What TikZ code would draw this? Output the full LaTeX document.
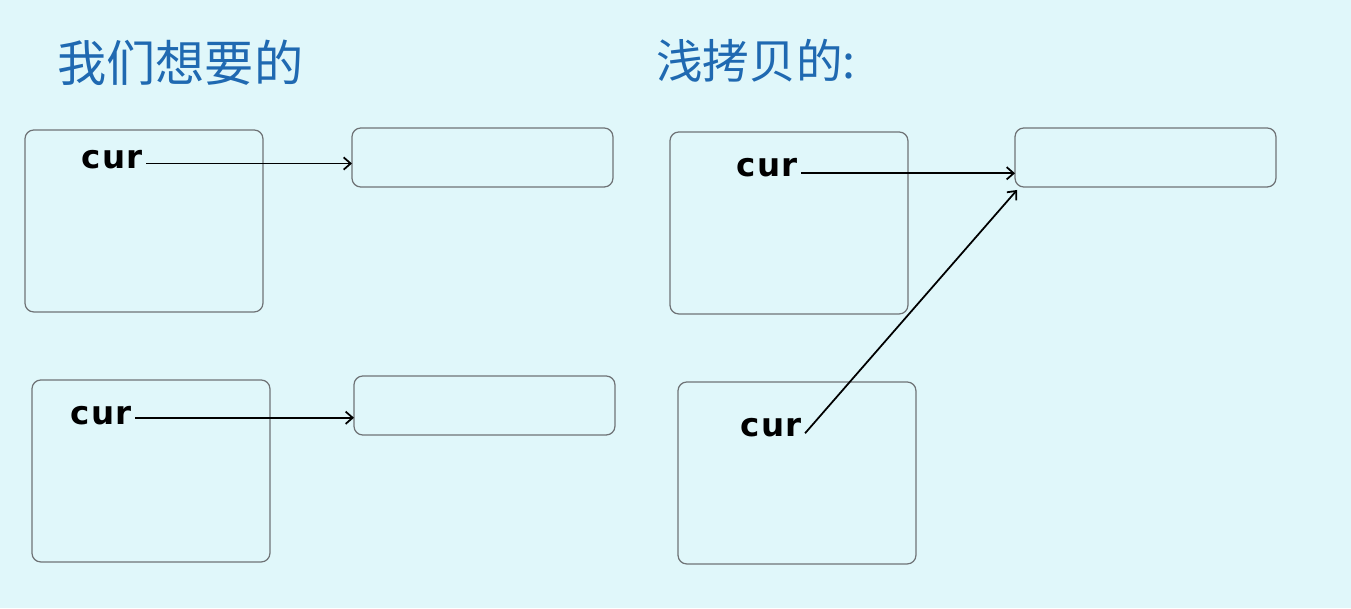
\documentclass[tikz,border=0pt]{standalone}
\usepackage{fontspec}
\usetikzlibrary{arrows.meta}
\newfontfamily\cjk{Noto Sans CJK SC}
\newfontfamily\curfont[LetterSpace=3]{DejaVu Sans}
\definecolor{bgcyan}{HTML}{E0F7FA}
\definecolor{titleblue}{HTML}{1F69B1}
\definecolor{boxgray}{HTML}{6F7376}

\begin{document}
\begin{tikzpicture}[x=0.02cm,y=-0.02cm,
    bigbox/.style={draw=boxgray,line width=0.7pt,rounded corners=5pt,outer sep=0pt,inner sep=0pt,anchor=north west,minimum width=4.76cm,minimum height=3.64cm},
    valbox/.style={draw=boxgray,line width=0.7pt,rounded corners=5pt,outer sep=0pt,inner sep=0pt,anchor=north west,minimum width=5.22cm,minimum height=1.18cm},
    curlbl/.style={inner sep=2pt,font=\curfont\bfseries\fontsize{18.5}{18.5}\selectfont},
    heading/.style={anchor=west,inner sep=0pt,text=titleblue},
    ptr/.style={-{Straight Barb[length=4pt,width=7pt]},line width=1pt}]
    \fill[bgcyan] (0,0) rectangle (1351,608);

    % Titel
    \node[heading,font=\cjk\fontsize{28}{30}\selectfont] (want) at (57,63) {我们想要的};
    \node[heading,font=\cjk\fontsize{26.5}{28}\selectfont] (shallow) at (656,61) {浅拷贝的:};

    % links
    \node[bigbox] (lt) at (25,130) {};
    \node[valbox] (ltv) at (352,128) {};
    \node[bigbox] (lb) at (32,380) {};
    \node[valbox] (lbv) at (354,376) {};
    \node[curlbl] (ltcur) at (112,160) {cur};
    \node[curlbl] (lbcur) at (101,416) {cur};

    % rechts
    \node[bigbox] (rt) at (670,132) {};
    \node[valbox] (rtv) at (1015,128) {};
    \node[bigbox] (rb) at (678,382) {};
    \node[curlbl] (rtcur) at (767,168) {cur};
    \node[curlbl] (rbcur) at (771,428) {cur};

    \draw[ptr] ([yshift=-2pt]ltcur.east) -- ([yshift=-2pt]ltcur.east -| ltv.west);
    \draw[ptr] ([yshift=-1pt]lbcur.east) -- ([yshift=-1pt]lbcur.east -| lbv.west);
    \draw[ptr] ([yshift=-3pt]rtcur.east) -- ([yshift=-3pt]rtcur.east -| rtv.west);
    \draw[ptr] ([yshift=-3pt]rbcur.east) -- ([shift={(2,3)}]rtv.south west);
\end{tikzpicture}
\end{document}
